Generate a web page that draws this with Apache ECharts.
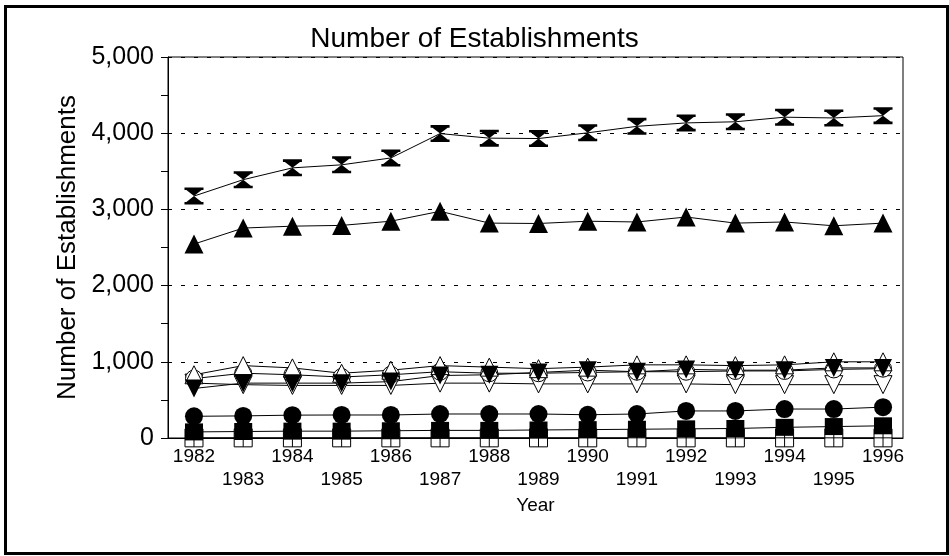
<!DOCTYPE html>
<html>
<head>
<meta charset="utf-8">
<script src="https://cdn.jsdelivr.net/npm/echarts@6/dist/echarts.min.js"></script>
<style>html,body{margin:0;padding:0;background:#fff;}#c{width:949px;height:556px;}</style>
</head>
<body>
<div id="c"></div>
<script>
const years = [1982,1983,1984,1985,1986,1987,1988,1989,1990,1991,1992,1993,1994,1995,1996];
const yTicks = [0,1000,2000,3000,4000,5000];
const hourglass = [3175,3390,3545,3585,3675,3995,3935,3930,4005,4090,4135,4150,4210,4200,4230];
const triUpFilled = [2545,2755,2780,2790,2845,2975,2820,2815,2845,2835,2900,2820,2835,2785,2820];
const triUpOpen = [830,950,920,850,890,950,930,910,930,960,960,950,960,1000,1000];
const circleOpen = [780,850,830,800,830,870,850,850,860,870,870,880,880,900,910];
const triDownOpen = [720,700,690,690,690,720,720,710,710,710,710,700,700,700,700];
const triDownFilled = [650,720,720,720,740,820,830,860,890,870,900,890,890,920,920];
const circleFilled = [285,290,300,302,302,315,315,315,305,315,355,355,380,380,405];
const squareFilled = [80,85,90,90,95,100,100,105,110,115,120,125,140,150,160];
const squareOpen = [2,2,2,2,2,2,2,2,2,2,2,2,2,2,2];

const HOURGLASS = 'path://M0,0 H10 V1.5 H9 L5,5 L9,8.5 H10 V10 H0 V8.5 H1 L5,5 L1,1.5 H0 Z';
const SQOPEN = 'path://M0,0 H10 V10 H0 Z M5,0 V10 M0,5 H10';

function mk(name, arr, symbol, size, filled, extra) {
  return Object.assign({
    name: name, type: 'line',
    data: years.map((y, i) => [y, arr[i]]),
    symbol: symbol, symbolSize: size,
    showAllSymbol: true,
    lineStyle: { color: '#000', width: 1 },
    itemStyle: filled ? { color: '#000', borderColor: '#000', borderWidth: 0 }
                      : { color: '#fff', borderColor: '#000', borderWidth: 1 },
    emphasis: { disabled: true },
    animation: false
  }, extra || {});
}

const chart = echarts.init(document.getElementById('c'), null, { renderer: 'canvas' });
chart.setOption({
  animation: false,
  backgroundColor: '#fff',
  textStyle: { fontFamily: 'Liberation Sans, Arial, sans-serif', color: '#000' },
  title: {
    text: 'Number of Establishments', left: 'center', top: 20,
    textStyle: { fontFamily: 'Liberation Sans', fontSize: 28, fontWeight: 'normal', color: '#000' }
  },
  graphic: [{
    type: 'rect', left: 3, top: 4, silent: true,
    shape: { width: 942, height: 547 },
    style: { fill: 'none', stroke: '#000', lineWidth: 3 }
  }],
  grid: { left: 168, right: 46, top: 57, bottom: 118, show: true, borderColor: '#000', borderWidth: 1, backgroundColor: 'transparent' },
  xAxis: {
    type: 'value', min: 1981.472, max: 1996.406,
    name: 'Year', nameLocation: 'middle', nameGap: 38,
    nameTextStyle: { fontFamily: 'Liberation Sans', fontSize: 19, color: '#000' },
    axisLine: { show: true, lineStyle: { color: '#000', width: 1 } },
    axisTick: { show: false },
    splitLine: { show: false },
    axisLabel: {
      customValues: years, fontFamily: 'Liberation Sans', fontSize: 19, color: '#000',
      lineHeight: 23, margin: 7,
      formatter: v => (Math.round(v) % 2 === 0 ? String(Math.round(v)) : '\n' + Math.round(v))
    }
  },
  yAxis: {
    type: 'value', min: 0, max: 5000, interval: 1000,
    name: 'Number of Establishments', nameLocation: 'middle', nameGap: 85,
    nameTextStyle: { fontFamily: 'Liberation Sans', fontSize: 26, color: '#000' },
    axisLine: { show: true, lineStyle: { color: '#000', width: 1 } },
    axisTick: { show: true, inside: false, length: 7, lineStyle: { color: '#000' } },
    minorTick: { show: true, splitNumber: 2, length: 7, lineStyle: { color: '#000' } },
    splitLine: { show: true, lineStyle: { color: '#000', type: [4, 9], width: 1 } },
    axisLabel: {
      fontFamily: 'Liberation Sans', fontSize: 25, color: '#000', margin: 14,
      customValues: yTicks,
      formatter: v => v.toLocaleString('en-US')
    }
  },
  series: [
    mk('squareOpen', squareOpen, SQOPEN, 18, false),
    mk('squareFilled', squareFilled, 'rect', [18, 17], true),
    mk('circleFilled', circleFilled, 'circle', 18, true),
    mk('triDownOpen', triDownOpen, 'triangle', 18, false, { symbolRotate: 180 }),
    mk('circleOpen', circleOpen, 'circle', 17, false),
    mk('triUpOpen', triUpOpen, 'triangle', 18, false),
    mk('triDownFilled', triDownFilled, 'triangle', 18, true, { symbolRotate: 180 }),
    mk('triUpFilled', triUpFilled, 'triangle', 19, true),
    mk('hourglass', hourglass, HOURGLASS, [19, 17], true)
  ]
});
</script>
</body>
</html>
